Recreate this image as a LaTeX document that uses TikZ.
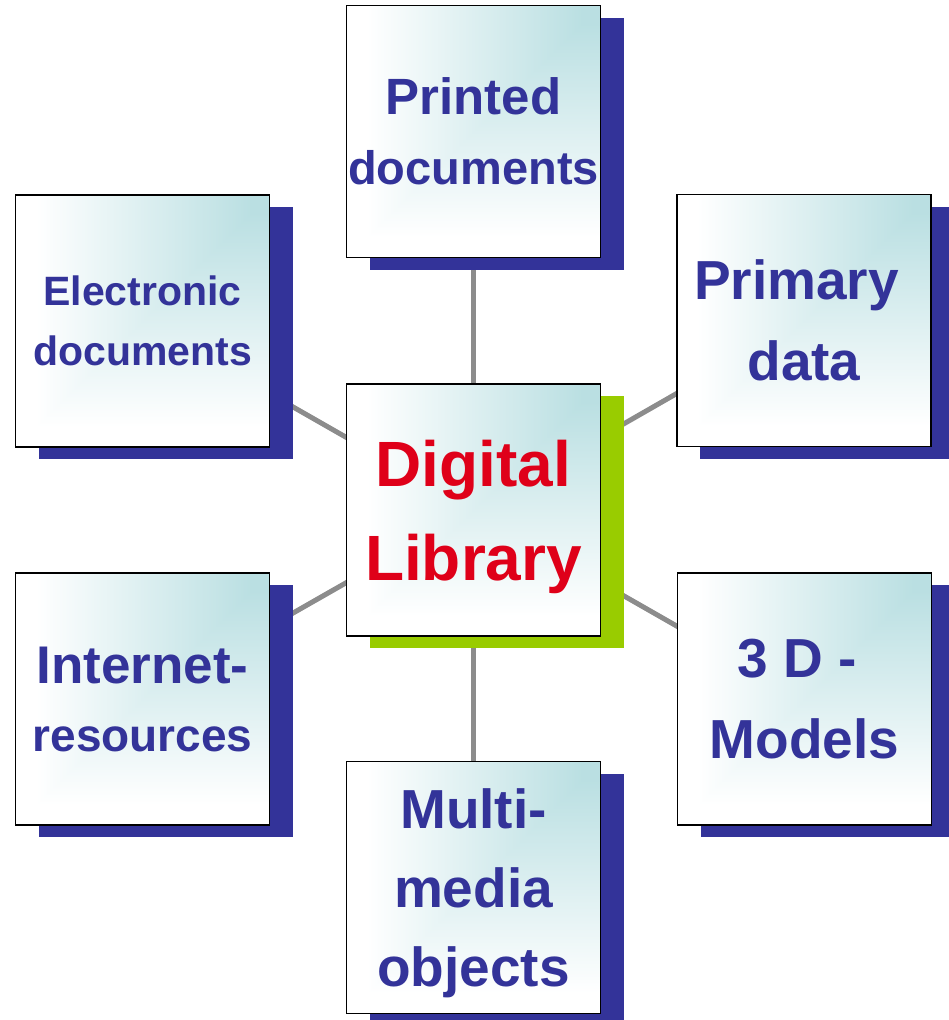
\documentclass[tikz,border=0pt]{standalone}
\usepackage{fontspec}
\setmainfont{Liberation Sans}
\usetikzlibrary{shadows,backgrounds}
\definecolor{dlteal}{HTML}{BADFE2}
\definecolor{dlblue}{HTML}{333399}
\definecolor{dlgreen}{HTML}{99CC00}
\definecolor{dlred}{HTML}{DF0019}
\definecolor{dlgray}{HTML}{8C8C8C}
\pgfdeclarefunctionalshading{dlcorner}{\pgfpoint{-50bp}{-50bp}}{\pgfpoint{50bp}{50bp}}{}{
  25 add 50 div
  exch
  25 add 50 div
  2 copy gt {exch} if pop
  0.08 sub 0.85 div
  dup 0 lt {pop 0} if dup 1 gt {pop 1} if
  dup dup
  0.271 mul 1 exch sub
  3 1 roll
  0.125 mul 1 exch sub
  exch
  0.114 mul 1 exch sub
}
\newcommand{\dlfont}[2]{\fontsize{#1}{#2}\selectfont\bfseries}
\newcommand{\dlsize}[2]{{\fontsize{#1}{#1}\selectfont #2}}
\tikzset{
  libbox/.style={rectangle, draw=black, line width=1.6pt, shade, shading=dlcorner,
    minimum width=254pt, minimum height=252pt, inner sep=0pt, align=center,
    text=dlblue, text depth=0pt,
    drop shadow={shadow xshift=23pt, shadow yshift=-12pt, fill=dlblue, opacity=1}},
  libcentre/.style={libbox, text=dlred,
    drop shadow={shadow xshift=23pt, shadow yshift=-12pt, fill=dlgreen, opacity=1}},
  libline/.style={draw=dlgray, line width=5pt}
}
\begin{document}
\begin{tikzpicture}[x=1pt,y=-1pt]
\useasboundingbox (0,0) rectangle (949,1020);
\node[libcentre, font=\dlfont{64}{94}] (digital) at (473.5,510) {Digital\\Library};
\node[libbox, font=\dlfont{47}{70}] (printed) at (473.5,131.5) {\dlsize{51}{Printed}\\documents};
\node[libbox, font=\dlfont{41}{60}] (electronic) at (142.5,321) {Electronic\\documents};
\node[libbox, font=\dlfont{55}{81}] (primary) at (804,320.5) {Primary\kern15pt\\data};
\node[libbox, font=\dlfont{46}{68}] (internet) at (142.5,699) {\dlsize{53}{Internet-}\\resources};
\node[libbox, font=\dlfont{55}{81}] (models) at (804.5,699) {3 D -\kern15pt\\Models};
\node[libbox, font=\dlfont{55}{79}] (multimedia) at (473.5,887.5) {Multi-\\media\\objects};
\begin{scope}[on background layer]
\draw[libline] (digital.center) -- (printed.center);
\draw[libline] (digital.center) -- (electronic.center);
\draw[libline] (digital.center) -- (primary.center);
\draw[libline] (digital.center) -- (internet.center);
\draw[libline] (digital.center) -- (models.center);
\draw[libline] (digital.center) -- (multimedia.center);
\end{scope}
\end{tikzpicture}
\end{document}
